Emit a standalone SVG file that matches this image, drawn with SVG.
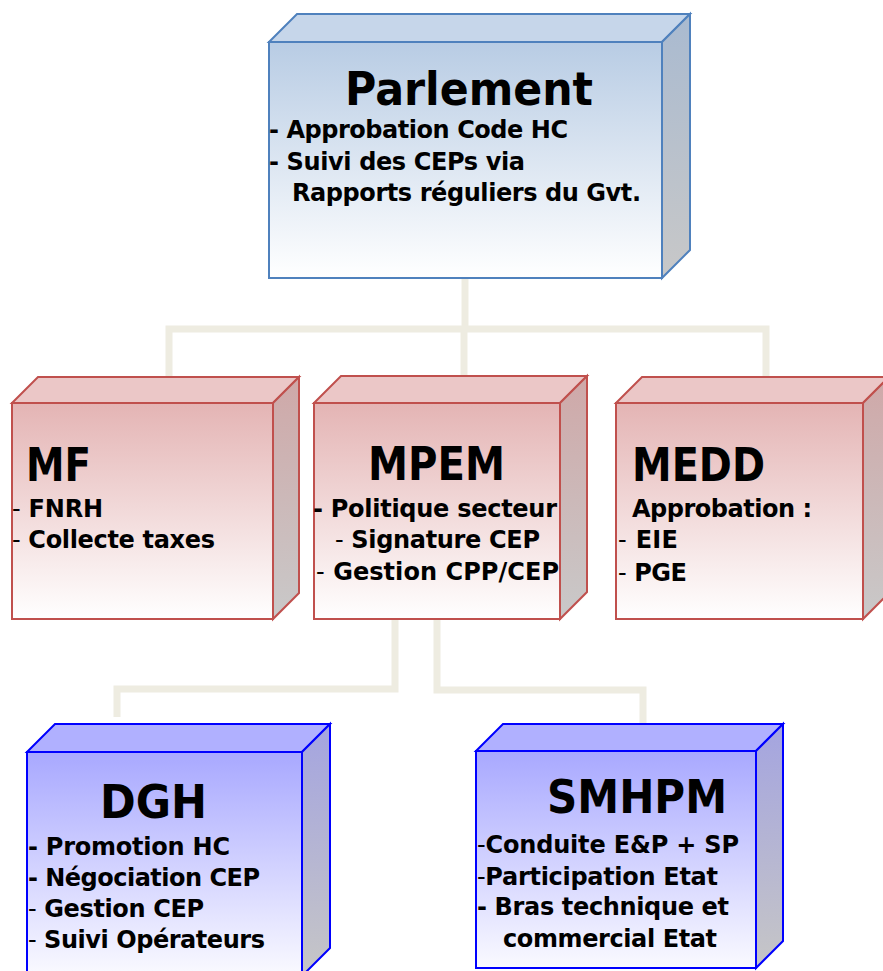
<svg xmlns="http://www.w3.org/2000/svg" width="883" height="971" viewBox="0 0 883 971">
<style>
.conn{fill:none;stroke:#eeece1;stroke-width:7;stroke-linejoin:miter;stroke-linecap:butt}
.t{font-family:"DejaVu Sans","Liberation Sans",sans-serif;font-weight:bold;fill:#000}
.title{font-size:47px}
.body{font-size:24px}
.thin{font-weight:normal}
.pb{stroke:#4f81bd;stroke-width:2;stroke-linejoin:miter}
.rb{stroke:#c0504d;stroke-width:2;stroke-linejoin:miter}
.bb{stroke:#0000ff;stroke-width:2;stroke-linejoin:miter}
</style>
<defs>
<linearGradient id="pFront" x1="0" y1="0" x2="0" y2="1"><stop offset="0" stop-color="#b8cce4"/><stop offset="1" stop-color="#ffffff"/></linearGradient>
<linearGradient id="pSide" x1="0" y1="0" x2="0" y2="1"><stop offset="0" stop-color="#a9bad0"/><stop offset="1" stop-color="#c8c8c8"/></linearGradient>
<linearGradient id="rFront" x1="0" y1="0" x2="0" y2="1"><stop offset="0" stop-color="#e4b4b4"/><stop offset="1" stop-color="#ffffff"/></linearGradient>
<linearGradient id="rSide" x1="0" y1="0" x2="0" y2="1"><stop offset="0" stop-color="#cfa8a8"/><stop offset="1" stop-color="#c9c9c9"/></linearGradient>
<linearGradient id="bFront" x1="0" y1="0" x2="0" y2="1"><stop offset="0" stop-color="#a8a8ff"/><stop offset="1" stop-color="#fafaff"/></linearGradient>
<linearGradient id="bSide" x1="0" y1="0" x2="0" y2="1"><stop offset="0" stop-color="#a4a4e0"/><stop offset="1" stop-color="#c6c6c6"/></linearGradient>
</defs>
<rect width="883" height="971" fill="#ffffff"/>
<g id="connectors">
<path class="conn" d="M465 279 V329"/>
<path class="conn" d="M169 377 V329 H766 V377"/>
<path class="conn" d="M464 329 V377"/>
<path class="conn" d="M395 620 V689 H117 V717"/>
<path class="conn" d="M437 620 V690 H643 V723"/>
</g>
<g id="parlement">
<polygon class="pb" fill="#c6d6ea" points="269,42 297,14 690,14 662,42"/>
<polygon class="pb" fill="url(#pSide)" points="662,42 690,14 690,250 662,278"/>
<rect class="pb" fill="url(#pFront)" x="269" y="42" width="393" height="236"/>
<text class="t title" x="345" y="105" textLength="248" lengthAdjust="spacingAndGlyphs">Parlement</text>
<text class="t body" x="269" y="138" textLength="299" lengthAdjust="spacing">- Approbation Code HC</text>
<text class="t body" x="269" y="170" textLength="256" lengthAdjust="spacing">- Suivi des CEPs via</text>
<text class="t body" x="292" y="201" textLength="349" lengthAdjust="spacing">Rapports réguliers du Gvt.</text>
</g>
<g id="mf">
<polygon class="rb" fill="#ebc7c7" points="12,403 38,377 299,377 273,403"/>
<polygon class="rb" fill="url(#rSide)" points="273,403 299,377 299,593 273,619"/>
<rect class="rb" fill="url(#rFront)" x="12" y="403" width="261" height="216"/>
<text class="t title" x="26" y="481" textLength="65" lengthAdjust="spacingAndGlyphs">MF</text>
<text class="t body" x="12" y="517" textLength="91" lengthAdjust="spacing"><tspan class="thin">-</tspan> FNRH</text>
<text class="t body" x="12" y="548" textLength="203" lengthAdjust="spacing"><tspan class="thin">-</tspan> Collecte taxes</text>
</g>
<g id="mpem">
<polygon class="rb" fill="#ebc7c7" points="314,403 341,376 587,376 560,403"/>
<polygon class="rb" fill="url(#rSide)" points="560,403 587,376 587,592 560,619"/>
<rect class="rb" fill="url(#rFront)" x="314" y="403" width="246" height="216"/>
<text class="t title" x="368" y="480" textLength="137" lengthAdjust="spacingAndGlyphs">MPEM</text>
<text class="t body" x="313" y="517" textLength="244" lengthAdjust="spacing">- Politique secteur</text>
<text class="t body" x="335" y="548" textLength="205" lengthAdjust="spacing"><tspan class="thin">-</tspan> Signature CEP</text>
<text class="t body" x="316" y="580" textLength="243" lengthAdjust="spacing"><tspan class="thin">-</tspan> Gestion CPP/CEP</text>
</g>
<g id="medd">
<polygon class="rb" fill="#ebc7c7" points="616,403 642,377 889,377 863,403"/>
<polygon class="rb" fill="url(#rSide)" points="863,403 889,377 889,593 863,619"/>
<rect class="rb" fill="url(#rFront)" x="616" y="403" width="247" height="216"/>
<text class="t title" x="632" y="481" textLength="133" lengthAdjust="spacingAndGlyphs">MEDD</text>
<text class="t body" x="632" y="517" textLength="180" lengthAdjust="spacing">Approbation :</text>
<text class="t body" x="618" y="548" textLength="60" lengthAdjust="spacing"><tspan class="thin">-</tspan> EIE</text>
<text class="t body" x="618" y="581" textLength="69" lengthAdjust="spacing"><tspan class="thin">-</tspan> PGE</text>
</g>
<g id="dgh">
<polygon class="bb" fill="#b0b0ff" points="27,752 55,724 330,724 302,752"/>
<polygon class="bb" fill="url(#bSide)" points="302,752 330,724 330,948 302,976"/>
<rect class="bb" fill="url(#bFront)" x="27" y="752" width="275" height="224"/>
<text class="t title" x="100" y="818" textLength="107" lengthAdjust="spacingAndGlyphs">DGH</text>
<text class="t body" x="28" y="855" textLength="202" lengthAdjust="spacing">- Promotion HC</text>
<text class="t body" x="28" y="886" textLength="232" lengthAdjust="spacing">- Négociation CEP</text>
<text class="t body" x="28" y="917" textLength="176" lengthAdjust="spacing"><tspan class="thin">-</tspan> Gestion CEP</text>
<text class="t body" x="28" y="948" textLength="237" lengthAdjust="spacing"><tspan class="thin">-</tspan> Suivi Opérateurs</text>
</g>
<g id="smhpm">
<polygon class="bb" fill="#b0b0ff" points="476,751 503,724 783,724 756,751"/>
<polygon class="bb" fill="url(#bSide)" points="756,751 783,724 783,941 756,968"/>
<rect class="bb" fill="url(#bFront)" x="476" y="751" width="280" height="217"/>
<text class="t title" x="547" y="813" textLength="180" lengthAdjust="spacingAndGlyphs">SMHPM</text>
<text class="t body" x="477" y="853" textLength="262" lengthAdjust="spacing"><tspan class="thin">-</tspan>Conduite E&amp;P + SP</text>
<text class="t body" x="477" y="885" textLength="241" lengthAdjust="spacing"><tspan class="thin">-</tspan>Participation Etat</text>
<text class="t body" x="477" y="915" textLength="252" lengthAdjust="spacing">- Bras technique et</text>
<text class="t body" x="503" y="947" textLength="214" lengthAdjust="spacing">commercial Etat</text>
</g>
</svg>
